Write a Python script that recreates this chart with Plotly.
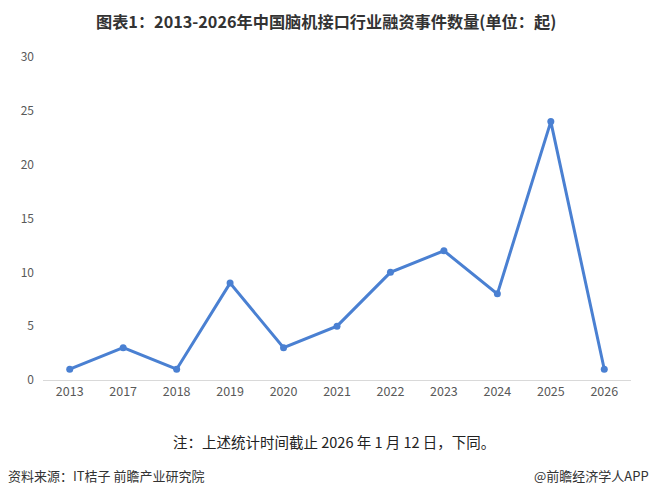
import plotly.graph_objects as go

years = ["2013", "2017", "2018", "2019", "2020", "2021", "2022", "2023", "2024", "2025", "2026"]
events = [1, 3, 1, 9, 3, 5, 10, 12, 8, 24, 1]
y_ticks = [0, 5, 10, 15, 20, 25, 30]

title = "图表1：2013-2026年中国脑机接口行业融资事件数量(单位：起)"
note = "注：上述统计时间截止 2026 年 1 月 12 日，下同。"
source = "资料来源：IT桔子 前瞻产业研究院"
brand = "@前瞻经济学人APP"

font_cjk = "Noto Sans CJK SC"
W, H = 652, 497
L, R, T, B = 43, 21, 57, 117
PW, PH = W - L - R, H - T - B


def px_x(x):
    return (x - L) / PW


def px_y(y):
    return (H - B - y) / PH


fig = go.Figure()
fig.add_trace(go.Scatter(
    x=years, y=events, mode="lines+markers",
    line=dict(color="#4a80d2", width=3),
    marker=dict(color="#4a80d2", size=7),
    showlegend=False,
))

fig.update_layout(
    width=W, height=H,
    margin=dict(l=L, r=R, t=T, b=B),
    paper_bgcolor="white", plot_bgcolor="white",
    font=dict(family=font_cjk, color="#595959", size=12),
    xaxis=dict(type="category", range=[-0.5, len(years) - 0.5], showgrid=False,
               showline=True, linecolor="#d9d9d9", linewidth=1, ticks="",
               tickfont=dict(size=12.5, color="#595959"), zeroline=False),
    yaxis=dict(range=[0, 30], tickvals=y_ticks, showgrid=False, showline=False,
               zeroline=False, ticks="", tickfont=dict(size=12, color="#595959"),
               ticklabelstandoff=8),
)

fig.add_annotation(text="<b>" + title + "</b>", xref="paper", yref="paper",
                   x=px_x(326), y=px_y(21), xanchor="center", yanchor="middle",
                   showarrow=False, font=dict(family=font_cjk, size=16.2, color="#333333"))
fig.add_annotation(text=note, xref="paper", yref="paper", x=px_x(334), y=px_y(441),
                   xanchor="center", yanchor="middle", showarrow=False,
                   font=dict(family=font_cjk, size=14.5, color="#222222"))
fig.add_annotation(text=source, xref="paper", yref="paper", x=px_x(6), y=px_y(476),
                   xanchor="left", yanchor="middle", showarrow=False,
                   font=dict(family=font_cjk, size=13, color="#333333"))
fig.add_annotation(text=brand, xref="paper", yref="paper", x=px_x(651), y=px_y(476),
                   xanchor="right", yanchor="middle", showarrow=False,
                   font=dict(family=font_cjk, size=13, color="#333333"))

fig.write_html("out.html", config={"displayModeBar": False},
               post_script="document.body.style.margin='0';document.body.style.padding='0';")
